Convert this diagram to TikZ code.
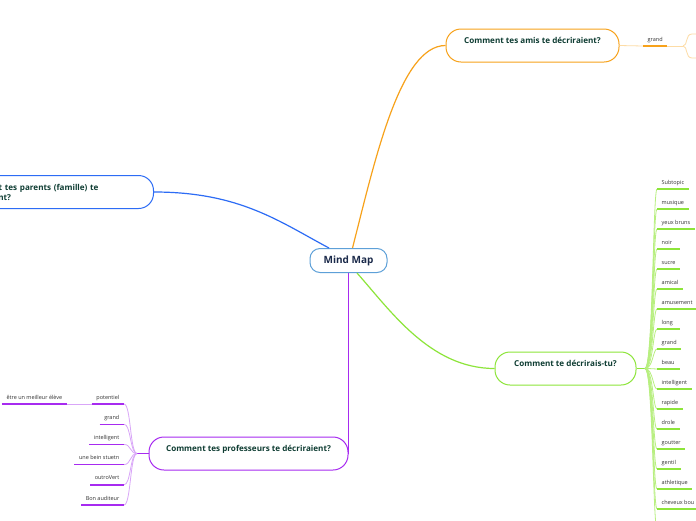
\documentclass[tikz,border=0pt]{standalone}
\usepackage{fontspec}
\setmainfont{Open Sans}
\usepackage{tikz}
\usetikzlibrary{calc}

\definecolor{mmblue}{HTML}{5DA0D8}
\definecolor{mmnavy}{HTML}{1B2A4A}
\definecolor{tpgreen}{HTML}{0F3D33}
\definecolor{amorange}{HTML}{F7A21B}
\definecolor{amlight}{HTML}{FDDCA6}
\definecolor{pablue}{HTML}{2D6CF5}
\definecolor{degreen}{HTML}{8DE53A}
\definecolor{delight}{HTML}{B8EF80}
\definecolor{prpurple}{HTML}{A72BF0}
\definecolor{prlight}{HTML}{D9A6F8}
\definecolor{leafgray}{HTML}{333333}

\begin{document}
\begin{tikzpicture}[x=1pt, y=-1pt,
  topic/.style={draw, line width=1pt, fill=white, rounded corners=15pt, inner ysep=8pt,
    text height=6pt, text depth=11pt, font=\fontsize{8.1}{10}\selectfont\bfseries, text=tpgreen},
  leaf/.style={inner xsep=4.5pt, inner ysep=3.5pt, text height=4pt, text depth=1.2pt,
    font=\fontsize{5.5}{6}\selectfont, text=leafgray},
  conn/.style={line width=1.2pt},
  sub/.style={line width=0.8pt},
  under/.style={line width=1.4pt}]
  \useasboundingbox (0,0) rectangle (696,520);
  \fill[white] (0,0) rectangle (696,520);
  \clip (0,0) rectangle (696,520);

  \node[draw=mmblue, line width=1pt, fill=white, rounded corners=10pt, minimum width=77pt, minimum height=24pt,
    font=\fontsize{10}{11}\selectfont\bfseries, text=mmnavy] (mm) at (348.5,260.5) {Mind Map};

  \node[topic, draw=amorange, minimum width=173pt] (am) at (532.5,45.5) {Comment tes amis te décriraient?};
  \node[topic, draw=pablue, text height=, text depth=, minimum height=33pt, text width=163pt, align=left,
    inner xsep=28pt, anchor=north east] (pa) at (154,175) {Comment tes parents (famille) te\\décriraient?};
  \node[topic, draw=degreen, minimum width=141pt] (dt) at (565.5,368.5) {Comment te décrirais-tu?};
  \node[topic, draw=prpurple, minimum width=199pt] (pr) at (248.5,453.5) {Comment tes professeurs te décriraient?};

  \draw[conn, amorange] ([xshift=4pt]mm.north) .. controls (375,160) and (400,45.5) .. (am.west);
  \draw[conn, pablue] (pa.east) .. controls (240,192) and (280,222) .. ([xshift=-19.5pt]mm.north);
  \draw[conn, degreen] ([xshift=8.5pt]mm.south) .. controls (390,310) and (430,368.5) .. (dt.west);
  \draw[conn, prpurple] (mm.south) -- (pr.east);

  \node[leaf, anchor=south west] (am1) at (643,46) {grand};
  \coordinate (amj) at (683,46);
  \coordinate (amc1) at (692,34);
  \coordinate (amc2) at (692,58);
  \draw[sub, amlight] (am.east) -- (am1.south west);
  \draw[under, amorange] (am1.south west) -- (am1.south east);
  \draw[sub, amlight] (am1.south east) -- (amj);
  \draw[sub, amlight] (amj) .. controls (688,46) and (685,34) .. (amc1) -- +(10,0);
  \draw[sub, amlight] (amj) .. controls (688,46) and (685,58) .. (amc2) -- +(10,0);

  \coordinate (dej) at (645,368.5);
  \draw[sub, degreen] (dt.east) -- (dej);
  \foreach \w [count=\i from 0] in {Subtopic, musique, yeux bruns, noir, sucre, amical, amusement, long, grand,
    beau, intelligent, rapide, drole, goutter, gentil, athletique, cheveux bou} {
    \node[leaf, anchor=south west] (dl\i) at (657,189+20*\i) {\w};
    \draw[sub, delight] (dej) .. controls (653,368.5) and (653,189+20*\i) .. (dl\i.south west);
    \draw[under, degreen] let \p1=(dl\i.south east) in (dl\i.south west) -- ({max(\x1,680pt)},\y1);
  }
  \coordinate (dl17) at (657,529);
  \draw[sub, delight] (dej) .. controls (653,368.5) and (653,529) .. (dl17);

  \coordinate (prj) at (137,453.5);
  \draw[sub, prpurple] (pr.west) -- (prj);
  \foreach \w [count=\i from 0] in {potentiel, grand, intelligent, une bein stuetn, outroVert, Bon auditeur} {
    \node[leaf, anchor=south east] (pl\i) at (124,404+20.2*\i) {\w};
    \draw[sub, prlight] (prj) .. controls (130,453.5) and (131,404+20.2*\i) .. (pl\i.south east);
    \draw[under, prpurple] let \p1=(pl\i.south west) in ({min(\x1,100pt)},\y1) -- (pl\i.south east);
  }
  \node[leaf, anchor=south east] (pl0a) at (67,404) {être un meilleur élève};
  \draw[sub, prlight] (pl0.south west) -- (pl0a.south east);
  \draw[under, prpurple] (pl0a.south west) -- (pl0a.south east);
\end{tikzpicture}
\end{document}
